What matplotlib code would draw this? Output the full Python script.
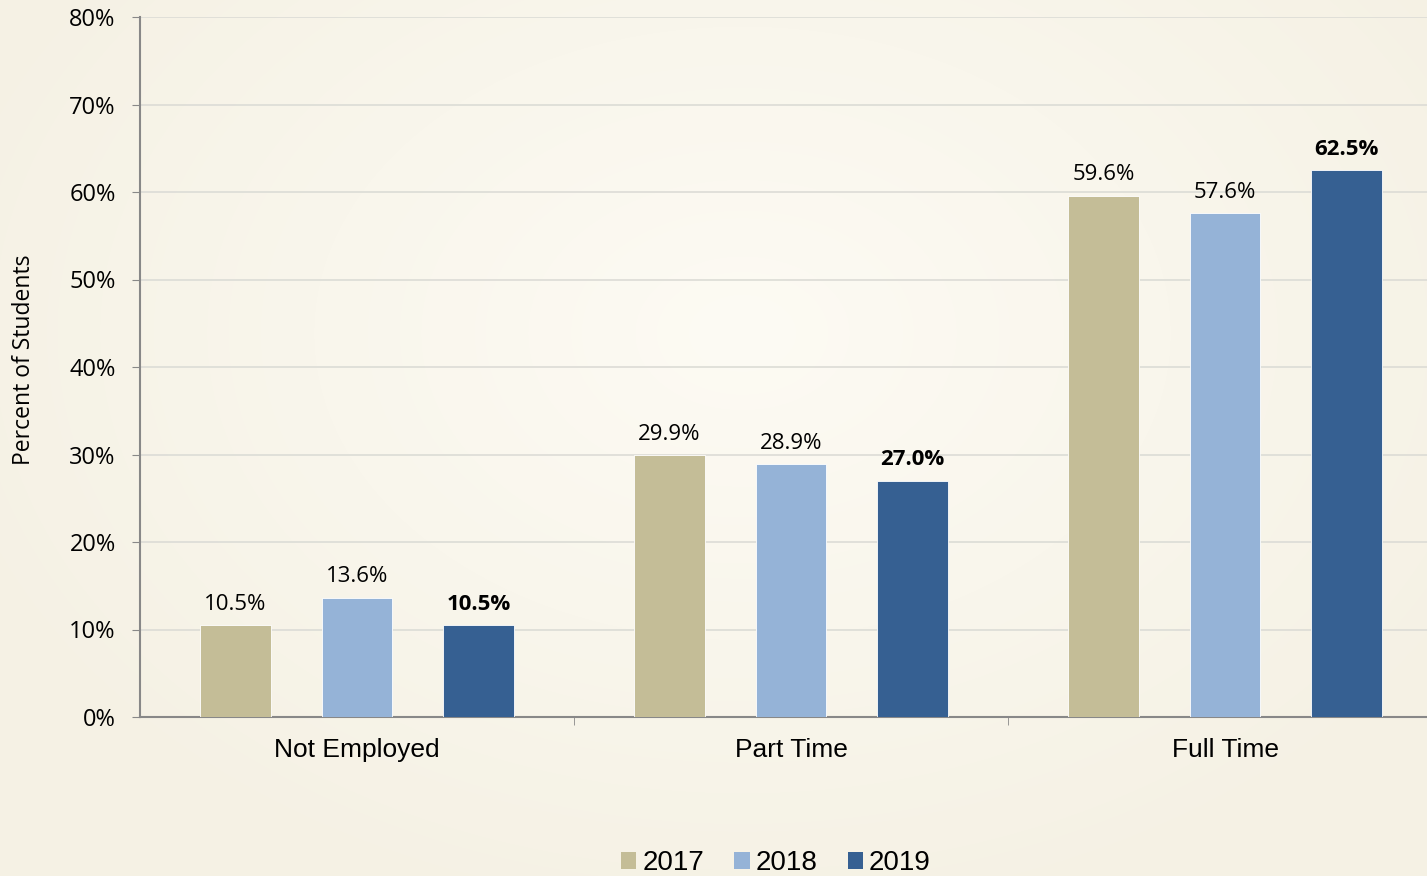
import numpy as np
import matplotlib
matplotlib.use("Agg")
import matplotlib.pyplot as plt
from matplotlib.patches import Patch

categories = ["Not Employed", "Part Time", "Full Time"]
years = ["2017", "2018", "2019"]
values_2017 = [10.5, 29.9, 59.6]
values_2018 = [13.6, 28.9, 57.6]
values_2019 = [10.5, 27.0, 62.5]
series = [values_2017, values_2018, values_2019]
colors = ["#c4bd97", "#95b3d7", "#366092"]
yticks = [0, 10, 20, 30, 40, 50, 60, 70, 80]

W, H = 1427, 876
fig = plt.figure(figsize=(W / 100, H / 100), dpi=100)

# radial gradient background
bg = fig.add_axes([0, 0, 1, 1], zorder=-10)
yy, xx = np.mgrid[0:H, 0:W]
cx, cy = W * 0.52, H * 0.38
r = np.sqrt(((xx - cx) / (W * 0.6)) ** 2 + ((yy - cy) / (H * 0.7)) ** 2)
r = np.clip(r, 0, 1)
c0 = np.array([253, 251, 244]) / 255
c1 = np.array([245, 241, 228]) / 255
img = c0[None, None, :] * (1 - r[..., None]) + c1[None, None, :] * r[..., None]
bg.imshow(img, aspect="auto", extent=[0, 1, 0, 1])
bg.axis("off")

left = 140 / W
right = 1442 / W
bottom = 1 - 717 / H
top = 1 - 17 / H
ax = fig.add_axes([left, bottom, right - left, top - bottom])
ax.patch.set_alpha(0)

x = np.arange(len(categories))
offsets = [-0.28, 0.0, 0.28]
bw = 0.162
for i, (vals, col, off) in enumerate(zip(series, colors, offsets)):
    ax.bar(x + off, vals, width=bw, color=col, edgecolor="white",
           linewidth=0.6, zorder=3, label=years[i])
    for xi, v in zip(x, vals):
        ax.text(xi + off, v + 1.2, f"{v:.1f}%", ha="center", va="bottom",
                fontsize=16, family=["Open Sans", "DejaVu Sans"],
                fontweight="bold" if i == 2 else "normal", color="black")

ax.set_xlim(-0.5, 2.5)
ax.set_ylim(0, 80)
ax.set_yticks(yticks)
ax.set_yticklabels([f"{t}%" for t in yticks], fontsize=17,
                   family=["Open Sans", "DejaVu Sans"])
ax.yaxis.grid(True, color="#dcdcd6", linewidth=1.2, zorder=0)
ax.set_axisbelow(True)
ax.tick_params(axis="y", direction="out", length=5.5, color="#888888", pad=12)
ax.set_xticks(x)
ax.set_xticklabels(categories, fontsize=19, family=["Liberation Sans", "DejaVu Sans"])
ax.tick_params(axis="x", length=0, pad=15)
ax.set_xticks([0.5, 1.5], minor=True)
ax.tick_params(axis="x", which="minor", direction="out", length=6, color="#888888")
for s in ["top", "right"]:
    ax.spines[s].set_visible(False)
ax.spines["left"].set_color("#888888")
ax.spines["bottom"].set_color("#888888")
ax.spines["left"].set_linewidth(1.5)
ax.spines["bottom"].set_linewidth(1.5)
ax.set_ylabel("Percent of Students", fontsize=16.5, family=["Open Sans", "DejaVu Sans"])
ax.yaxis.set_label_coords(-(140 - 36) / (1442 - 140), 0.511)

handles = [Patch(facecolor=c, edgecolor="none") for c in colors]
fig.legend(handles, years, loc="center", bbox_to_anchor=(776 / W, 1 - 863 / H),
           ncol=3, frameon=False, handlelength=0.55, handleheight=0.55,
           handletextpad=0.22, columnspacing=1.08,
           prop={"family": ["Liberation Sans", "DejaVu Sans"], "size": 20})

fig.savefig("out.png", dpi=100)
